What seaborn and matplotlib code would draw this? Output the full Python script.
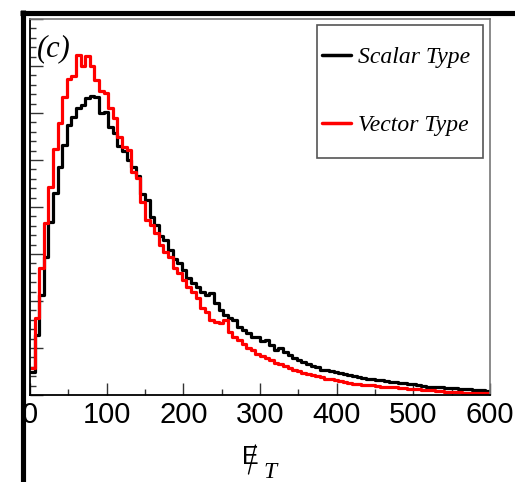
import numpy as np
import pandas as pd
import matplotlib
matplotlib.use("Agg")
import matplotlib.pyplot as plt
import seaborn as sns
from matplotlib.lines import Line2D
from matplotlib.patches import Rectangle
from matplotlib.ticker import MultipleLocator, NullFormatter

# ---- data: missing-ET distributions, 100 bins of 6 GeV over 0-600 ----
met_edges = np.arange(0, 601, 6)

scalar_type = [
    0.49, 1.28, 2.13, 2.94, 3.68, 4.30, 4.85, 5.32, 5.74, 5.91,
    6.11, 6.17, 6.32, 6.36, 6.34, 6.00, 6.02, 5.70, 5.57, 5.30,
    5.19, 5.00, 4.85, 4.66, 4.28, 4.15, 3.79, 3.62, 3.38, 3.30,
    3.09, 2.89, 2.81, 2.66, 2.49, 2.38, 2.30, 2.19, 2.13, 2.17,
    1.96, 1.81, 1.70, 1.64, 1.60, 1.45, 1.38, 1.32, 1.23, 1.23,
    1.15, 1.17, 1.06, 0.96, 1.00, 0.91, 0.85, 0.79, 0.74, 0.70,
    0.66, 0.62, 0.60, 0.53, 0.53, 0.51, 0.49, 0.47, 0.45, 0.43,
    0.40, 0.38, 0.36, 0.34, 0.33, 0.32, 0.31, 0.29, 0.28, 0.27,
    0.26, 0.26, 0.23, 0.23, 0.22, 0.20, 0.18, 0.18, 0.17, 0.16,
    0.15, 0.15, 0.14, 0.13, 0.12, 0.12, 0.11, 0.10, 0.10, 0.09,
]
vector_type = [
    0.57, 1.64, 2.70, 3.66, 4.43, 5.23, 5.79, 6.34, 6.72, 6.79,
    7.23, 7.00, 7.21, 7.00, 6.70, 6.47, 6.43, 6.11, 5.89, 5.49,
    5.28, 5.21, 4.74, 4.62, 4.11, 3.72, 3.62, 3.45, 3.19, 3.04,
    2.94, 2.70, 2.60, 2.45, 2.30, 2.19, 2.06, 1.85, 1.77, 1.60,
    1.55, 1.53, 1.60, 1.34, 1.23, 1.17, 1.09, 1.00, 0.96, 0.87,
    0.83, 0.79, 0.74, 0.68, 0.66, 0.62, 0.57, 0.53, 0.51, 0.47,
    0.45, 0.43, 0.40, 0.38, 0.35, 0.34, 0.32, 0.29, 0.28, 0.26,
    0.24, 0.24, 0.22, 0.21, 0.21, 0.20, 0.18, 0.18, 0.17, 0.16,
    0.15, 0.14, 0.13, 0.13, 0.12, 0.11, 0.11, 0.10, 0.09, 0.09,
    0.07, 0.07, 0.06, 0.06, 0.05, 0.05, 0.05, 0.04, 0.04, 0.04,
]
series_labels = ["Scalar Type", "Vector Type"]
series_colors = ["#000000", "#ff0000"]
x_ticks = [0, 100, 200, 300, 400, 500, 600]

sns.set_style("ticks")
plt.rcParams["font.family"] = ["Liberation Sans", "DejaVu Sans"]
plt.rcParams["text.color"] = "black"

W, H = 515, 482
def fx(x):
    return x / W
def fy(y):
    return 1 - y / H

fig = plt.figure(figsize=(W / 100, H / 100), dpi=100)
ax = fig.add_axes([fx(30), fy(395), 460 / W, 376 / H])

for vals, col in zip([scalar_type, vector_type], series_colors):
    df = pd.DataFrame({"met": met_edges, "count": list(vals) + [vals[-1]]})
    sns.lineplot(data=df, x="met", y="count", drawstyle="steps-post", color=col,
                 linewidth=2.3, ax=ax, legend=False)

ax.set_xlim(0, 600)
ax.set_ylim(0, 8)
ax.set_xlabel("")
ax.set_ylabel("")
ax.set_xticks(x_ticks)
ax.set_xticklabels([str(t) for t in x_ticks])
ax.xaxis.set_minor_locator(MultipleLocator(50))
ax.yaxis.set_major_locator(MultipleLocator(1))
ax.yaxis.set_minor_locator(MultipleLocator(0.2))
ax.yaxis.set_major_formatter(NullFormatter())
ax.tick_params(axis="both", which="major", direction="in", color="#333333", width=1.0)
ax.tick_params(axis="x", which="major", length=8.6, labelsize=21, pad=4, labelcolor="black")
ax.tick_params(axis="x", which="minor", direction="in", length=4.3, width=1.0, color="#333333")
ax.tick_params(axis="y", which="major", length=9.4)
ax.tick_params(axis="y", which="minor", direction="in", length=4.3, width=1.0, color="#333333")
ax.tick_params(axis="both", which="both", top=False, right=False)

for s in ["left", "bottom"]:
    ax.spines[s].set_color("black")
    ax.spines[s].set_linewidth(1.3)
for s in ["top", "right"]:
    ax.spines[s].set_visible(True)
    ax.spines[s].set_color("#777777")
    ax.spines[s].set_linewidth(1.2)

# panel label
fig.text(fx(37), fy(49), "(c)", family=["Liberation Serif", "DejaVu Serif"],
         style="italic", fontsize=22, ha="left", va="center", color="black")

# legend box and entries
fig.add_artist(Rectangle((fx(317), fy(158)), 166 / W, 133 / H, transform=fig.transFigure,
                         fill=False, edgecolor="#555555", linewidth=1.2, zorder=4))
handles = [Line2D([0], [0], color=c, lw=2.5) for c in series_colors]
leg = ax.legend(handles, series_labels, loc="center",
                bbox_to_anchor=(fx(396), fy(91.5)), bbox_transform=fig.transFigure,
                frameon=False, prop={"family": "Liberation Serif", "style": "italic", "size": 17},
                handlelength=1.25, handletextpad=0.3, labelspacing=1.95, borderpad=0,
                labelcolor="black")

# x-axis title: slashed E with subscript T
fig.text(fx(242), fy(464), "E", fontsize=18, family=["Liberation Sans"], ha="left",
         va="baseline", color="black")
fig.add_artist(Line2D([fx(248.5), fx(255.5)], [fy(474), fy(445)], transform=fig.transFigure,
                      color="black", lw=1.0))
fig.text(fx(263), fy(478), "T", fontsize=17, family=["Liberation Serif"], style="italic",
         ha="left", va="baseline", color="black")

# thick frame lines of the original page
fig.add_artist(Line2D([fx(20), fx(515)], [fy(12.5), fy(12.5)], transform=fig.transFigure,
                      color="black", lw=3.7, solid_capstyle="butt", zorder=10))
fig.add_artist(Line2D([fx(22.5), fx(22.5)], [fy(10), fy(482)], transform=fig.transFigure,
                      color="black", lw=3.7, solid_capstyle="butt", zorder=10))

fig.savefig("out.png", dpi=100)
